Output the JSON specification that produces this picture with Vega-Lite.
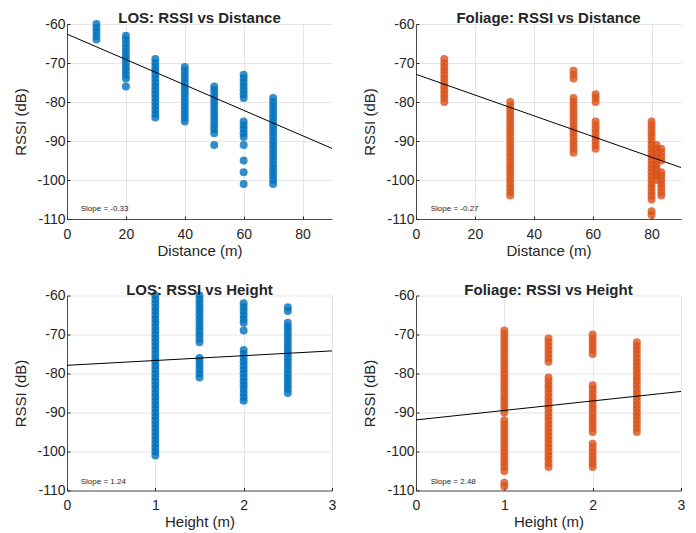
{
"$schema":"https://vega.github.io/schema/vega-lite/v6.json",
"padding":{"left":13,"top":11,"right":0,"bottom":0},
"background":"white",
"datasets":{
"ld":[
{"x":10,"y":-60},{"x":10,"y":-61},{"x":10,"y":-62},{"x":10,"y":-63},{"x":10,"y":-64},
{"x":20,"y":-63},{"x":20,"y":-64},{"x":20,"y":-65},{"x":20,"y":-66},{"x":20,"y":-67},{"x":20,"y":-68},{"x":20,"y":-69},{"x":20,"y":-70},{"x":20,"y":-71},{"x":20,"y":-72},{"x":20,"y":-73},{"x":20,"y":-74},{"x":20,"y":-76},
{"x":30,"y":-69},{"x":30,"y":-70},{"x":30,"y":-71},{"x":30,"y":-72},{"x":30,"y":-73},{"x":30,"y":-74},{"x":30,"y":-75},{"x":30,"y":-76},{"x":30,"y":-77},{"x":30,"y":-78},{"x":30,"y":-79},{"x":30,"y":-80},{"x":30,"y":-81},{"x":30,"y":-82},{"x":30,"y":-83},{"x":30,"y":-84},
{"x":40,"y":-71},{"x":40,"y":-72},{"x":40,"y":-73},{"x":40,"y":-74},{"x":40,"y":-75},{"x":40,"y":-76},{"x":40,"y":-77},{"x":40,"y":-78},{"x":40,"y":-79},{"x":40,"y":-80},{"x":40,"y":-81},{"x":40,"y":-82},{"x":40,"y":-83},{"x":40,"y":-84},{"x":40,"y":-85},
{"x":50,"y":-76},{"x":50,"y":-77},{"x":50,"y":-78},{"x":50,"y":-79},{"x":50,"y":-80},{"x":50,"y":-81},{"x":50,"y":-82},{"x":50,"y":-83},{"x":50,"y":-84},{"x":50,"y":-85},{"x":50,"y":-86},{"x":50,"y":-87},{"x":50,"y":-88},{"x":50,"y":-91},
{"x":60,"y":-73},{"x":60,"y":-74},{"x":60,"y":-75},{"x":60,"y":-76},{"x":60,"y":-77},{"x":60,"y":-78},{"x":60,"y":-79},{"x":60,"y":-85},{"x":60,"y":-86},{"x":60,"y":-87},{"x":60,"y":-88},{"x":60,"y":-89},{"x":60,"y":-91},{"x":60,"y":-95},{"x":60,"y":-98},{"x":60,"y":-101},
{"x":70,"y":-79},{"x":70,"y":-80},{"x":70,"y":-81},{"x":70,"y":-82},{"x":70,"y":-83},{"x":70,"y":-84},{"x":70,"y":-85},{"x":70,"y":-86},{"x":70,"y":-87},{"x":70,"y":-88},{"x":70,"y":-89},{"x":70,"y":-90},{"x":70,"y":-91},{"x":70,"y":-92},{"x":70,"y":-93},{"x":70,"y":-94},{"x":70,"y":-95},{"x":70,"y":-96},{"x":70,"y":-97},{"x":70,"y":-98},{"x":70,"y":-99},{"x":70,"y":-100},{"x":70,"y":-101}
],
"fd":[
{"x":9.6,"y":-69},{"x":9.6,"y":-70},{"x":9.6,"y":-71},{"x":9.6,"y":-72},{"x":9.6,"y":-73},{"x":9.6,"y":-74},{"x":9.6,"y":-75},{"x":9.6,"y":-76},{"x":9.6,"y":-77},{"x":9.6,"y":-78},{"x":9.6,"y":-79},{"x":9.6,"y":-80},
{"x":32,"y":-80},{"x":32,"y":-81},{"x":32,"y":-82},{"x":32,"y":-83},{"x":32,"y":-84},{"x":32,"y":-85},{"x":32,"y":-86},{"x":32,"y":-87},{"x":32,"y":-88},{"x":32,"y":-89},{"x":32,"y":-90},{"x":32,"y":-91},{"x":32,"y":-92},{"x":32,"y":-93},{"x":32,"y":-94},{"x":32,"y":-95},{"x":32,"y":-96},{"x":32,"y":-97},{"x":32,"y":-98},{"x":32,"y":-99},{"x":32,"y":-100},{"x":32,"y":-101},{"x":32,"y":-102},{"x":32,"y":-103},{"x":32,"y":-104},
{"x":53.5,"y":-72},{"x":53.5,"y":-73},{"x":53.5,"y":-74},{"x":53.5,"y":-79},{"x":53.5,"y":-80},{"x":53.5,"y":-81},{"x":53.5,"y":-82},{"x":53.5,"y":-83},{"x":53.5,"y":-84},{"x":53.5,"y":-85},{"x":53.5,"y":-86},{"x":53.5,"y":-87},{"x":53.5,"y":-88},{"x":53.5,"y":-89},{"x":53.5,"y":-90},{"x":53.5,"y":-91},{"x":53.5,"y":-92},{"x":53.5,"y":-93},
{"x":61,"y":-78},{"x":61,"y":-79},{"x":61,"y":-80},{"x":61,"y":-85},{"x":61,"y":-86},{"x":61,"y":-87},{"x":61,"y":-88},{"x":61,"y":-89},{"x":61,"y":-90},{"x":61,"y":-91},{"x":61,"y":-92},
{"x":80,"y":-85},{"x":80,"y":-86},{"x":80,"y":-87},{"x":80,"y":-88},{"x":80,"y":-89},{"x":80,"y":-90},{"x":80,"y":-91},{"x":80,"y":-92},{"x":80,"y":-93},{"x":80,"y":-94},{"x":80,"y":-95},{"x":80,"y":-96},{"x":80,"y":-97},{"x":80,"y":-98},{"x":80,"y":-99},{"x":80,"y":-100},{"x":80,"y":-101},{"x":80,"y":-102},{"x":80,"y":-103},{"x":80,"y":-104},{"x":80,"y":-105},{"x":80,"y":-108},{"x":80,"y":-109},
{"x":81.7,"y":-91},{"x":81.7,"y":-92},{"x":81.7,"y":-93},{"x":81.7,"y":-94},{"x":81.7,"y":-95},{"x":81.7,"y":-96},{"x":81.7,"y":-97},{"x":81.7,"y":-98},{"x":81.7,"y":-99},{"x":81.7,"y":-100},
{"x":83.3,"y":-92},{"x":83.3,"y":-93},{"x":83.3,"y":-94},{"x":83.3,"y":-95},{"x":83.3,"y":-98},{"x":83.3,"y":-99},{"x":83.3,"y":-100},{"x":83.3,"y":-101},{"x":83.3,"y":-102},{"x":83.3,"y":-103},{"x":83.3,"y":-104}
],
"lh":[
{"x":1,"y":-60},{"x":1,"y":-61},{"x":1,"y":-62},{"x":1,"y":-63},{"x":1,"y":-64},{"x":1,"y":-65},{"x":1,"y":-66},{"x":1,"y":-67},{"x":1,"y":-68},{"x":1,"y":-69},{"x":1,"y":-70},{"x":1,"y":-71},{"x":1,"y":-72},{"x":1,"y":-73},{"x":1,"y":-74},{"x":1,"y":-75},{"x":1,"y":-76},{"x":1,"y":-77},{"x":1,"y":-78},{"x":1,"y":-79},{"x":1,"y":-80},{"x":1,"y":-81},{"x":1,"y":-82},{"x":1,"y":-83},{"x":1,"y":-84},{"x":1,"y":-85},{"x":1,"y":-86},{"x":1,"y":-87},{"x":1,"y":-88},{"x":1,"y":-89},{"x":1,"y":-90},{"x":1,"y":-91},{"x":1,"y":-92},{"x":1,"y":-93},{"x":1,"y":-94},{"x":1,"y":-95},{"x":1,"y":-96},{"x":1,"y":-97},{"x":1,"y":-98},{"x":1,"y":-99},{"x":1,"y":-100},{"x":1,"y":-101},
{"x":1.5,"y":-60},{"x":1.5,"y":-61},{"x":1.5,"y":-62},{"x":1.5,"y":-63},{"x":1.5,"y":-64},{"x":1.5,"y":-65},{"x":1.5,"y":-66},{"x":1.5,"y":-67},{"x":1.5,"y":-68},{"x":1.5,"y":-69},{"x":1.5,"y":-70},{"x":1.5,"y":-71},{"x":1.5,"y":-72},{"x":1.5,"y":-76},{"x":1.5,"y":-77},{"x":1.5,"y":-78},{"x":1.5,"y":-79},{"x":1.5,"y":-80},{"x":1.5,"y":-81},
{"x":2,"y":-62},{"x":2,"y":-63},{"x":2,"y":-64},{"x":2,"y":-65},{"x":2,"y":-66},{"x":2,"y":-67},{"x":2,"y":-69},{"x":2,"y":-74},{"x":2,"y":-75},{"x":2,"y":-76},{"x":2,"y":-77},{"x":2,"y":-78},{"x":2,"y":-79},{"x":2,"y":-80},{"x":2,"y":-81},{"x":2,"y":-82},{"x":2,"y":-83},{"x":2,"y":-84},{"x":2,"y":-85},{"x":2,"y":-86},{"x":2,"y":-87},
{"x":2.5,"y":-63},{"x":2.5,"y":-64},{"x":2.5,"y":-67},{"x":2.5,"y":-68},{"x":2.5,"y":-69},{"x":2.5,"y":-70},{"x":2.5,"y":-71},{"x":2.5,"y":-72},{"x":2.5,"y":-73},{"x":2.5,"y":-74},{"x":2.5,"y":-75},{"x":2.5,"y":-76},{"x":2.5,"y":-77},{"x":2.5,"y":-78},{"x":2.5,"y":-79},{"x":2.5,"y":-80},{"x":2.5,"y":-81},{"x":2.5,"y":-82},{"x":2.5,"y":-83},{"x":2.5,"y":-84},{"x":2.5,"y":-85}
],
"fh":[
{"x":1,"y":-69},{"x":1,"y":-70},{"x":1,"y":-71},{"x":1,"y":-72},{"x":1,"y":-73},{"x":1,"y":-74},{"x":1,"y":-75},{"x":1,"y":-76},{"x":1,"y":-77},{"x":1,"y":-78},{"x":1,"y":-79},{"x":1,"y":-80},{"x":1,"y":-81},{"x":1,"y":-82},{"x":1,"y":-83},{"x":1,"y":-84},{"x":1,"y":-85},{"x":1,"y":-86},{"x":1,"y":-87},{"x":1,"y":-88},{"x":1,"y":-89},{"x":1,"y":-90},{"x":1,"y":-92},{"x":1,"y":-93},{"x":1,"y":-94},{"x":1,"y":-95},{"x":1,"y":-96},{"x":1,"y":-97},{"x":1,"y":-98},{"x":1,"y":-99},{"x":1,"y":-100},{"x":1,"y":-101},{"x":1,"y":-102},{"x":1,"y":-103},{"x":1,"y":-104},{"x":1,"y":-105},{"x":1,"y":-108},{"x":1,"y":-109},
{"x":1.5,"y":-71},{"x":1.5,"y":-72},{"x":1.5,"y":-73},{"x":1.5,"y":-74},{"x":1.5,"y":-75},{"x":1.5,"y":-76},{"x":1.5,"y":-77},{"x":1.5,"y":-81},{"x":1.5,"y":-82},{"x":1.5,"y":-83},{"x":1.5,"y":-84},{"x":1.5,"y":-85},{"x":1.5,"y":-86},{"x":1.5,"y":-87},{"x":1.5,"y":-88},{"x":1.5,"y":-89},{"x":1.5,"y":-90},{"x":1.5,"y":-91},{"x":1.5,"y":-92},{"x":1.5,"y":-93},{"x":1.5,"y":-94},{"x":1.5,"y":-95},{"x":1.5,"y":-96},{"x":1.5,"y":-97},{"x":1.5,"y":-98},{"x":1.5,"y":-99},{"x":1.5,"y":-100},{"x":1.5,"y":-101},{"x":1.5,"y":-102},{"x":1.5,"y":-103},{"x":1.5,"y":-104},
{"x":2,"y":-70},{"x":2,"y":-71},{"x":2,"y":-72},{"x":2,"y":-73},{"x":2,"y":-74},{"x":2,"y":-75},{"x":2,"y":-83},{"x":2,"y":-84},{"x":2,"y":-85},{"x":2,"y":-86},{"x":2,"y":-87},{"x":2,"y":-88},{"x":2,"y":-89},{"x":2,"y":-90},{"x":2,"y":-91},{"x":2,"y":-92},{"x":2,"y":-93},{"x":2,"y":-94},{"x":2,"y":-95},{"x":2,"y":-98},{"x":2,"y":-99},{"x":2,"y":-100},{"x":2,"y":-101},{"x":2,"y":-102},{"x":2,"y":-103},{"x":2,"y":-104},
{"x":2.5,"y":-72},{"x":2.5,"y":-73},{"x":2.5,"y":-74},{"x":2.5,"y":-75},{"x":2.5,"y":-76},{"x":2.5,"y":-77},{"x":2.5,"y":-78},{"x":2.5,"y":-79},{"x":2.5,"y":-80},{"x":2.5,"y":-81},{"x":2.5,"y":-82},{"x":2.5,"y":-83},{"x":2.5,"y":-84},{"x":2.5,"y":-85},{"x":2.5,"y":-86},{"x":2.5,"y":-87},{"x":2.5,"y":-88},{"x":2.5,"y":-89},{"x":2.5,"y":-90},{"x":2.5,"y":-91},{"x":2.5,"y":-92},{"x":2.5,"y":-93},{"x":2.5,"y":-94},{"x":2.5,"y":-95}
]
},
"columns":2,
"spacing":{"row":24.5,"column":26},
"concat":[
{"width":265,"height":195,"title":"LOS: RSSI vs Distance",
"layer":[
{"data":{"name":"ld"},"mark":{"type":"circle","size":64,"opacity":0.8,"color":"#0072BD"},
"encoding":{"x":{"field":"x","type":"quantitative","scale":{"domain":[0,90],"nice":false,"zero":false},"axis":{"values":[0,20,40,60,80],"title":"Distance (m)","format":"d"}},
"y":{"field":"y","type":"quantitative","scale":{"domain":[-110,-60],"nice":false,"zero":false},"axis":{"values":[-110,-100,-90,-80,-70,-60],"tickCount":12,"title":"RSSI (dB)","format":"d"}}}},
{"data":{"values":[{"x":0,"y":-62.6},{"x":90,"y":-91.9}]},"mark":{"type":"line","color":"#000000","strokeWidth":1},
"encoding":{"x":{"field":"x","type":"quantitative"},"y":{"field":"y","type":"quantitative"}}},
{"data":{"values":[{"x":4.65,"y":-107.5,"t":"Slope = -0.33"}]},"mark":{"type":"text","align":"left","baseline":"middle","fontSize":8,"color":"#262626"},
"encoding":{"x":{"field":"x","type":"quantitative"},"y":{"field":"y","type":"quantitative"},"text":{"field":"t"}}}
]},
{"width":265,"height":195,"title":"Foliage: RSSI vs Distance",
"layer":[
{"data":{"name":"fd"},"mark":{"type":"circle","size":64,"opacity":0.8,"color":"#D95319"},
"encoding":{"x":{"field":"x","type":"quantitative","scale":{"domain":[0,90],"nice":false,"zero":false},"axis":{"values":[0,20,40,60,80],"title":"Distance (m)","format":"d"}},
"y":{"field":"y","type":"quantitative","scale":{"domain":[-110,-60],"nice":false,"zero":false},"axis":{"values":[-110,-100,-90,-80,-70,-60],"tickCount":12,"title":"RSSI (dB)","format":"d"}}}},
{"data":{"values":[{"x":0,"y":-72.9},{"x":90,"y":-96.8}]},"mark":{"type":"line","color":"#000000","strokeWidth":1},
"encoding":{"x":{"field":"x","type":"quantitative"},"y":{"field":"y","type":"quantitative"}}},
{"data":{"values":[{"x":5.0,"y":-107.5,"t":"Slope = -0.27"}]},"mark":{"type":"text","align":"left","baseline":"middle","fontSize":8,"color":"#262626"},
"encoding":{"x":{"field":"x","type":"quantitative"},"y":{"field":"y","type":"quantitative"},"text":{"field":"t"}}}
]},
{"width":265,"height":195,"title":"LOS: RSSI vs Height",
"layer":[
{"data":{"name":"lh"},"mark":{"type":"circle","size":64,"opacity":0.8,"color":"#0072BD"},
"encoding":{"x":{"field":"x","type":"quantitative","scale":{"domain":[0,3],"nice":false,"zero":false},"axis":{"values":[0,1,2,3],"title":"Height (m)","format":"d"}},
"y":{"field":"y","type":"quantitative","scale":{"domain":[-110,-60],"nice":false,"zero":false},"axis":{"values":[-110,-100,-90,-80,-70,-60],"tickCount":12,"title":"RSSI (dB)","format":"d"}}}},
{"data":{"values":[{"x":0,"y":-77.9},{"x":3,"y":-74.2}]},"mark":{"type":"line","color":"#000000","strokeWidth":1},
"encoding":{"x":{"field":"x","type":"quantitative"},"y":{"field":"y","type":"quantitative"}}},
{"data":{"values":[{"x":0.155,"y":-107.8,"t":"Slope = 1.24"}]},"mark":{"type":"text","align":"left","baseline":"middle","fontSize":8,"color":"#262626"},
"encoding":{"x":{"field":"x","type":"quantitative"},"y":{"field":"y","type":"quantitative"},"text":{"field":"t"}}}
]},
{"width":265,"height":195,"title":"Foliage: RSSI vs Height",
"layer":[
{"data":{"name":"fh"},"mark":{"type":"circle","size":64,"opacity":0.8,"color":"#D95319"},
"encoding":{"x":{"field":"x","type":"quantitative","scale":{"domain":[0,3],"nice":false,"zero":false},"axis":{"values":[0,1,2,3],"title":"Height (m)","format":"d"}},
"y":{"field":"y","type":"quantitative","scale":{"domain":[-110,-60],"nice":false,"zero":false},"axis":{"values":[-110,-100,-90,-80,-70,-60],"tickCount":12,"title":"RSSI (dB)","format":"d"}}}},
{"data":{"values":[{"x":0,"y":-91.9},{"x":3,"y":-84.6}]},"mark":{"type":"line","color":"#000000","strokeWidth":1},
"encoding":{"x":{"field":"x","type":"quantitative"},"y":{"field":"y","type":"quantitative"}}},
{"data":{"values":[{"x":0.166,"y":-107.7,"t":"Slope = 2.48"}]},"mark":{"type":"text","align":"left","baseline":"middle","fontSize":8,"color":"#262626"},
"encoding":{"x":{"field":"x","type":"quantitative"},"y":{"field":"y","type":"quantitative"},"text":{"field":"t"}}}
]}
],
"config":{
"font":"Liberation Sans",
"locale":{"number":{"decimal":".","thousands":",","grouping":[3],"currency":["$",""],"minus":"-"}},
"view":{"stroke":null},
"axis":{"domainColor":"#262626","domainWidth":0.8,"tickColor":"#262626","tickSize":-3,"tickCount":12,"labelColor":"#262626","titleColor":"#262626","gridColor":"#e6e6e6","labelFontSize":14,"titleFontSize":15,"titleFontWeight":"normal","labelFlush":false,"labelOverlap":false},
"axisX":{"labelPadding":11,"titlePadding":2},
"axisY":{"labelPadding":5,"titlePadding":8},
"title":{"fontSize":15,"font":"Liberation Sans","fontWeight":"bold","color":"#262626","offset":-9,"frame":"group","anchor":"middle"}
}
}
